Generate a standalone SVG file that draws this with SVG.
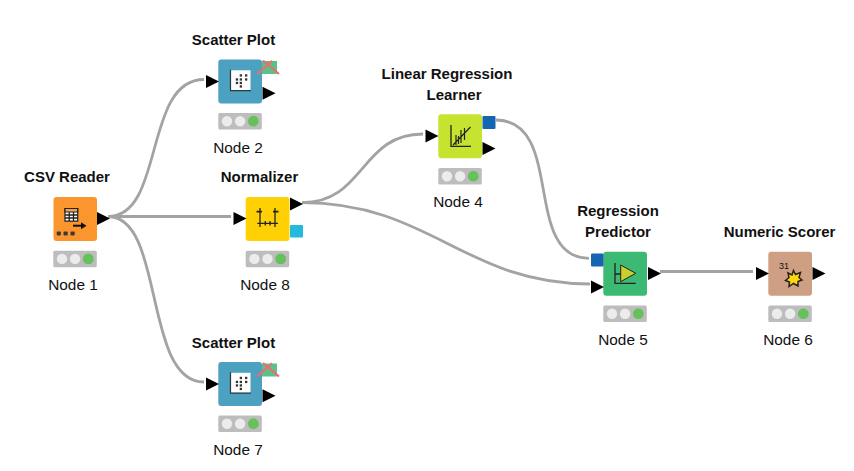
<svg xmlns="http://www.w3.org/2000/svg" width="854" height="471" viewBox="0 0 854 471">
<style>
text{font-family:"Liberation Sans",Arial,sans-serif;font-size:15.4px;text-anchor:middle;fill:#111}
.t{font-weight:bold;font-size:15px}
.body{stroke:none}
.c{fill:none;stroke:#a3a3a3;stroke-width:2.8}
.g{fill:none;stroke:#222;stroke-width:1.3}
.k{fill:#333;stroke:none}
</style>
<defs>
<path id="port" d="M0 -6.500L13 0L0 6.500Z" fill="#000"/>
<g id="status"><rect x="0" y="0" width="43.500" height="16.500" rx="1.500" fill="#bdbdbd"/><circle cx="8.700" cy="8.200" r="5.200" fill="#ececec"/><circle cx="21.800" cy="8.200" r="5.200" fill="#ececec"/><circle cx="35" cy="8.200" r="5.400" fill="#66c05c"/></g>
<g id="crossed"><rect x="0" y="0" width="15" height="13" fill="#5cc08a"/><path d="M-5 13L10 -0.300M1 -0.300L17 13" fill="none" stroke="#e8706c" stroke-width="2.200"/></g>
<g id="plot"><rect x="0" y="0" width="20" height="20" fill="#fff" stroke="none"/><path d="M0 -0.500V20.300H20.500" fill="none" stroke="#2a3a40" stroke-width="1.200"/><g class="k"><rect x="9.200" y="4" width="2.300" height="2.300"/><rect x="14.500" y="4" width="2.300" height="2.300"/><rect x="5.300" y="8" width="2.300" height="2.300"/><rect x="9.200" y="8" width="2.300" height="2.300"/><rect x="14.500" y="8" width="2.300" height="2.300"/><rect x="5.300" y="11.500" width="2.300" height="2.300"/><rect x="9.200" y="11.500" width="2.300" height="2.300"/><rect x="9.200" y="15" width="2.300" height="2.300"/></g></g>
</defs>

<g id="connectors">
<path class="c" d="M108 216.500C165 216.500 143 79.500 204 79.500"/>
<path class="c" d="M108 216.500H231"/>
<path class="c" d="M108 216.500C165 216.500 143 382 204 382"/>
<path class="c" d="M302 202.700C365 202.700 360 134 423 134"/>
<path class="c" d="M302 202.700C430 202.700 465 284 590 284"/>
<path class="c" d="M496 120C565 120 522 258.300 589 258.300"/>
<path class="c" d="M660 271.500H753"/>
</g>

<g id="node1">
<text class="t" x="67" y="182">CSV Reader</text>
<rect class="body" x="53.500" y="197" width="43.500" height="44" rx="3" fill="#fb962e"/>
<path d="M65 208.500h12.700v12.700H65z" fill="#fff" stroke="#222" stroke-width="1.200"/>
<path d="M65 208.500h12.700v3.500H65z" fill="#f5a04a" stroke="#222" stroke-width="1.200"/>
<path class="g" d="M69.200 212v9M73.500 212v9M65 215h12.700M65 218h12.700"/>
<path d="M73 225.700h9" stroke="#111" stroke-width="2" fill="none"/><path d="M81 222.200l5.500 3.500-5.500 3.500z" fill="#111"/>
<g fill="#3c3a36"><rect x="56.700" y="231.500" width="4.200" height="4" rx="1"/><rect x="63.500" y="231.500" width="4.200" height="4" rx="1"/><rect x="70.500" y="231.500" width="4.200" height="4" rx="1"/></g>
<use href="#port" x="97" y="218.500"/>
<use href="#status" x="53.300" y="250.700"/>
<text x="73" y="290">Node 1</text>
</g>

<g id="node2">
<text class="t" x="233.500" y="45">Scatter Plot</text>
<rect class="body" x="218.300" y="59.500" width="43.700" height="44" rx="3" fill="#4ca0c0"/>
<use href="#plot" x="230.500" y="70.300"/>
<use href="#crossed" x="262" y="61"/>
<use href="#port" x="206" y="81.500"/>
<use href="#port" x="262.500" y="93.300"/>
<use href="#status" x="218.300" y="113"/>
<text x="238" y="153">Node 2</text>
</g>

<g id="node7">
<text class="t" x="233.500" y="348">Scatter Plot</text>
<rect class="body" x="218.300" y="362" width="43.700" height="44" rx="3" fill="#4ca0c0"/>
<use href="#plot" x="230.500" y="372.800"/>
<use href="#crossed" x="262" y="363.500"/>
<use href="#port" x="206" y="384"/>
<use href="#port" x="262.500" y="395.800"/>
<use href="#status" x="218.300" y="415.500"/>
<text x="238" y="455">Node 7</text>
</g>

<g id="node8">
<text class="t" x="259.500" y="182">Normalizer</text>
<rect class="body" x="245.700" y="197" width="43.800" height="44" rx="3" fill="#ffd104"/>
<path class="g" d="M257.300 223.300H278M260 208V227M275 208V227M265.300 221V225.500M270 221V225.500"/>
<path d="M256.500 211.700H262M278.500 211.700H273" stroke="#222" stroke-width="1.800" fill="none"/>
<use href="#port" x="290" y="204"/>
<rect x="290" y="225" width="13" height="12.500" rx="1" fill="#22bbdd"/>
<use href="#port" x="233.500" y="218.500"/>
<use href="#status" x="245.700" y="250.700"/>
<text x="265" y="290">Node 8</text>
</g>

<g id="node4">
<text class="t" x="447" y="79">Linear Regression</text>
<text class="t" x="454" y="100">Learner</text>
<rect class="body" x="438.300" y="114.300" width="43.700" height="44" rx="3" fill="#c5e32f"/>
<path d="M451 125V146.300H471" fill="none" stroke="#222" stroke-width="1.300"/>
<path d="M453 145L470.500 127M456 135V145M461 130V143M464.500 128V140M458.500 136V144" fill="none" stroke="#222" stroke-width="1.200"/>
<use href="#port" x="425.500" y="136"/>
<rect x="482.500" y="116" width="13" height="13" rx="1" fill="#1565b0"/>
<use href="#port" x="482.500" y="148.500"/>
<use href="#status" x="438.300" y="168"/>
<text x="458" y="207">Node 4</text>
</g>

<g id="node5">
<text class="t" x="618" y="216">Regression</text>
<text class="t" x="618" y="237">Predictor</text>
<rect class="body" x="603.300" y="251.700" width="43.700" height="44" rx="3" fill="#3cba74"/>
<path d="M615 263V283.300H635.700M615 274H621" fill="none" stroke="#222" stroke-width="1.300"/>
<path d="M620.700 265L635.700 273.300L620.700 281.700Z" fill="#c9cf2f" stroke="#222" stroke-width="1"/>
<rect x="591" y="253.500" width="12.500" height="13" rx="1" fill="#1565b0"/>
<use href="#port" x="591" y="287"/>
<use href="#port" x="648" y="273.500"/>
<use href="#status" x="603.300" y="305.500"/>
<text x="623" y="345">Node 5</text>
</g>

<g id="node6">
<text class="t" x="779.500" y="237">Numeric Scorer</text>
<rect class="body" x="768.300" y="251.700" width="43.700" height="44" rx="3" fill="#cf9f83"/>
<text x="784" y="269" style="font-size:9px">31</text>
<path d="M793.500 270.500L795.500 274.500L800.500 272.500L799 277.500L802 280L798 281.500L798 286L793.500 283.500L789 286.500L789.500 282L785.500 280.500L789 277.500L788 273L792 275Z" fill="#ffd80a" stroke="#222" stroke-width="1.500"/>
<use href="#port" x="756" y="273.500"/>
<use href="#port" x="812.500" y="273.500"/>
<use href="#status" x="768.300" y="305.500"/>
<text x="788" y="345">Node 6</text>
</g>
</svg>
